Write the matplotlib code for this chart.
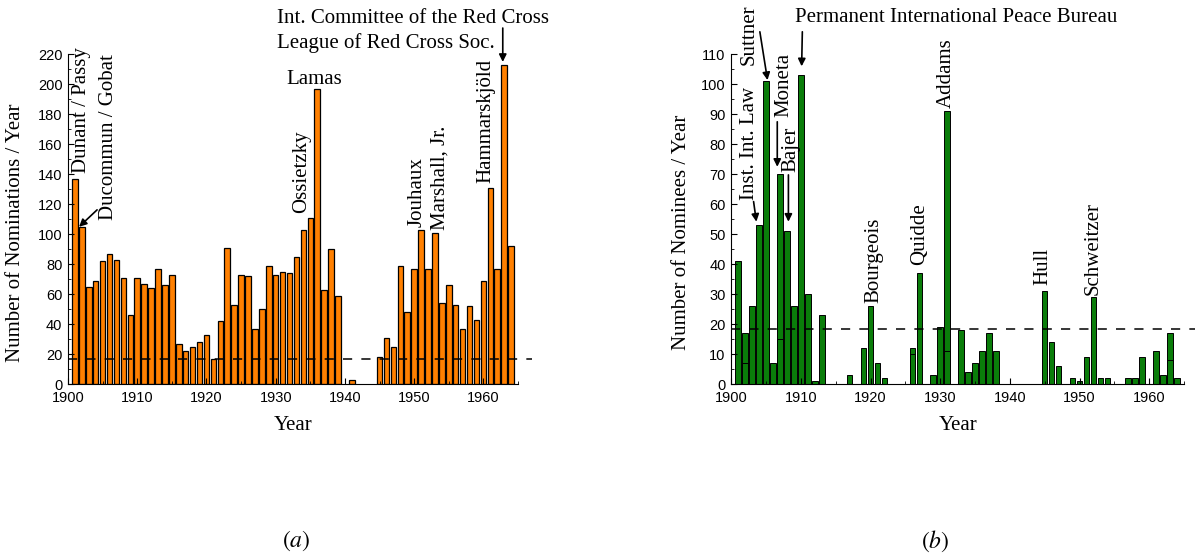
import matplotlib
matplotlib.use("Agg")
import matplotlib.pyplot as plt
from matplotlib.ticker import MultipleLocator

plt.rcParams['font.family'] = ['Liberation Serif', 'DejaVu Serif']
plt.rcParams['mathtext.fontset'] = 'stix'

# ---------------- data ----------------
years_a = list(range(1901, 1940)) + [1941] + list(range(1945, 1965))
nominations = [137, 105, 65, 69, 82, 87, 83, 71, 46, 71,
               67, 64, 77, 66, 73, 27, 22, 25, 28, 33,
               17, 42, 91, 53, 73, 72, 37, 50, 79, 73,
               75, 74, 85, 103, 111, 197, 63, 90, 59,
               3,
               18, 31, 25, 79, 48, 77, 103, 77, 101, 54,
               66, 53, 37, 52, 43, 69, 131, 77, 213, 92]
mean_a = 16.8

years_b = [1901, 1902, 1903, 1904, 1905, 1906, 1907, 1908, 1909, 1910,
           1911, 1912, 1913, 1917, 1919, 1920, 1921, 1922, 1926, 1927,
           1929, 1930, 1931, 1933, 1934, 1935, 1936, 1937, 1938, 1945,
           1946, 1947, 1949, 1950, 1951, 1952, 1953, 1954, 1957, 1958,
           1959, 1961, 1962, 1963, 1964]
nominees = [41, 17, 26, 53, 101, 7, 70, 51, 26, 103,
            30, 1, 23, 3, 12, 26, 7, 2, 12, 37,
            3, 19, 91, 18, 4, 7, 11, 17, 11, 31,
            14, 6, 2, 1, 9, 29, 2, 2, 2, 2,
            9, 11, 3, 17, 2]
inner_years_b = [1902, 1907, 1926, 1931, 1963]
inner_vals_b = [7, 15, 10, 11, 8]
mean_b = 18.3

labels_a = ["Dunant / Passy", "Ducommun / Gobat", "Ossietzky", "Jouhaux",
            "Marshall, Jr.", "Hammarskjöld"]
labels_a_x = [1902.0, 1905.8, 1933.7, 1950.4, 1953.8, 1960.3]
labels_a_y = [140.9, 109.5, 114, 105, 103, 134.4]

labels_b = ["Suttner", "Inst. Int. Law", "Moneta", "Bajer", "Bourgeois",
            "Quidde", "Addams", "Hull", "Schweitzer"]
labels_b_x = [1902.5, 1902.6, 1907.5, 1908.5, 1920.4, 1927.1, 1930.9, 1944.8, 1952.0]
labels_b_y = [106.4, 61.4, 89.2, 70.9, 27, 39.8, 92, 33.1, 29.8]

ORANGE = '#ff8000'
GREEN = '#0a7d0a'
FS = 15

fig = plt.figure(figsize=(11.98, 5.58), dpi=100)
axa = fig.add_axes([68/1198, 1-384.3/558, 450/1198, 330/558])
axb = fig.add_axes([731.3/1198, 1-384.3/558, 452.7/1198, 330/558])

arrow = dict(arrowstyle='-|>', color='black', lw=1.2, mutation_scale=11,
             shrinkA=0, shrinkB=0)


def style(ax, ymax, ymaj, ymin):
    ax.set_xlim(1900, 1965)
    ax.set_ylim(0, ymax)
    for s in ['top', 'right']:
        ax.spines[s].set_visible(False)
    ax.xaxis.set_major_locator(MultipleLocator(10))
    ax.xaxis.set_minor_locator(MultipleLocator(5))
    ax.yaxis.set_major_locator(MultipleLocator(ymaj))
    ax.yaxis.set_minor_locator(MultipleLocator(ymin))
    ax.tick_params(which='both', direction='in', labelsize=10.5)
    ax.tick_params(which='major', length=4)
    ax.tick_params(which='minor', length=2.5)
    ax.tick_params(axis='x', pad=5)
    ax.tick_params(axis='y', pad=4)
    for lab in ax.get_xticklabels() + ax.get_yticklabels():
        lab.set_family(['Liberation Sans', 'DejaVu Sans'])
    ax.set_xlabel("Year", fontsize=FS)
    ax.xaxis.set_label_coords(0.5, -0.095)


# ---------------- panel (a) ----------------
axa.bar(years_a, nominations, width=0.8, color=ORANGE, edgecolor='black', linewidth=0.9)
axa.plot([1900, 1967], [mean_a, mean_a], ls=(0, (6, 6)), color='black', lw=1.1,
         clip_on=False, zorder=5)
style(axa, 220, 20, 10)
axa.set_ylabel("Number of Nominations / Year", fontsize=FS)
axa.yaxis.set_label_coords(-0.095, 0.46)

for t, x, y in zip(labels_a, labels_a_x, labels_a_y):
    axa.text(x, y, t, rotation=90, ha='center', va='bottom', fontsize=FS, clip_on=False)
axa.text(1935.6, 200, "Lamas", ha='center', va='baseline', fontsize=FS)
axa.text(1930.2, 240.7, "Int. Committee of the Red Cross", ha='left', va='baseline',
         fontsize=FS, clip_on=False)
axa.text(1930.2, 224, "League of Red Cross Soc.", ha='left', va='baseline',
         fontsize=FS, clip_on=False)
axa.annotate("", xy=(1901.6, 105), xytext=(1904.2, 116.3), arrowprops=arrow,
             annotation_clip=False)
axa.annotate("", xy=(1962.8, 214.9), xytext=(1962.8, 237.5), arrowprops=arrow,
             annotation_clip=False)

# ---------------- panel (b) ----------------
axb.bar(years_b, nominees, width=0.8, color=GREEN, edgecolor='black', linewidth=0.7)
axb.bar(inner_years_b, inner_vals_b, width=0.8, color=GREEN, edgecolor='black', linewidth=0.7)
axb.plot([1900, 1966.6], [mean_b, mean_b], ls=(0, (6, 6)), color='black', lw=1.1,
         clip_on=False, zorder=5)
style(axb, 110, 10, 5)
axb.set_ylabel("Number of Nominees / Year", fontsize=FS)
axb.yaxis.set_label_coords(-0.089, 0.46)

for t, x, y in zip(labels_b, labels_b_x, labels_b_y):
    axb.text(x, y, t, rotation=90, ha='center', va='bottom', fontsize=FS, clip_on=False)
axb.text(1909.14, 120.8, "Permanent International Peace Bureau", ha='left',
         va='baseline', fontsize=FS, clip_on=False)
axb.annotate("", xy=(1905.2, 101.4), xytext=(1904.1, 117.5), arrowprops=arrow,
             annotation_clip=False)
axb.annotate("", xy=(1910.1, 106.0), xytext=(1910.2, 117.5), arrowprops=arrow,
             annotation_clip=False)
axb.annotate("", xy=(1903.6, 54.2), xytext=(1903.2, 60.9), arrowprops=arrow,
             annotation_clip=False)
axb.annotate("", xy=(1906.6, 72.5), xytext=(1906.6, 87.5), arrowprops=arrow,
             annotation_clip=False)
axb.annotate("", xy=(1908.2, 54.2), xytext=(1908.2, 69.8), arrowprops=arrow,
             annotation_clip=False)

fig.text(296/1198, 1-541/558, r"$(\mathit{a})$", ha='center', va='center', fontsize=17)
fig.text(935/1198, 1-541/558, r"$(\mathit{b})$", ha='center', va='center', fontsize=17)

fig.savefig("out.png", dpi=100)
